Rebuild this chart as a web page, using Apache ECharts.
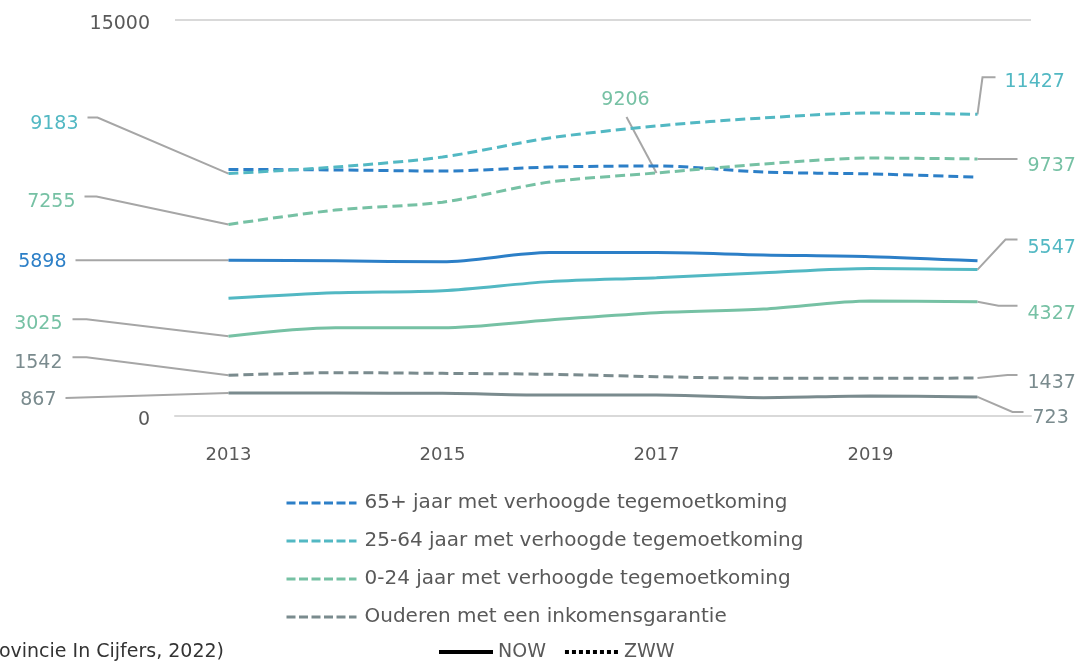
<!DOCTYPE html>
<html>
<head>
<meta charset="utf-8">
<script src="https://cdn.jsdelivr.net/npm/echarts@6/dist/echarts.min.js"></script>
<style>
  html, body { margin: 0; padding: 0; background: #fff; }
  #chart { width: 1079px; height: 663px; }
</style>
</head>
<body>
<div id="chart"></div>
<script>
// years on the x axis
var years = ["2013", "2014", "2015", "2016", "2017", "2018", "2019", "2020"];

// ZWW (dashed)
var zww65 = [9340, 9320, 9280, 9430, 9470, 9240, 9170, 9050];
var zww25 = [9183, 9430, 9810, 10530, 10985, 11290, 11477, 11427];
var zww0 = [7255, 7800, 8100, 8860, 9206, 9545, 9770, 9737];
var zwwOud = [1542, 1640, 1615, 1580, 1490, 1430, 1430, 1437];

// NOW (solid)
var now65 = [5898, 5880, 5840, 6190, 6190, 6100, 6035, 5880];
var now25 = [4457, 4670, 4745, 5090, 5240, 5430, 5590, 5547];
var now0 = [3025, 3345, 3345, 3636, 3914, 4050, 4356, 4327];
var nowOud = [867, 867, 860, 795, 795, 695, 757, 723];

var groups = [
    "65+ jaar met verhoogde tegemoetkoming",
    "25-64 jaar met verhoogde tegemoetkoming",
    "0-24 jaar met verhoogde tegemoetkoming",
    "Ouderen met een inkomensgarantie"
];

var BLUE = "#2c7fc7";
var TEAL = "#52b8c3";
var GREEN = "#76c1a4";
var GREY = "#7a8b8e";
var FONT = '"DejaVu Sans", sans-serif';

function line(name, data, color, dashed) {
    return {
        name: name,
        type: "line",
        data: data,
        smooth: 0.3,
        symbol: "none",
        lineStyle: {
            color: color,
            width: 3,
            type: dashed ? [10, 5] : "solid"
        },
        itemStyle: { color: color },
        z: dashed ? 3 : 2
    };
}

var chart = echarts.init(document.getElementById("chart"));

chart.setOption({
    animation: false,
    grid: { left: 175, right: 48, top: 20, bottom: 247 },
    xAxis: {
        type: "category",
        data: years,
        boundaryGap: true,
        axisTick: { show: false },
        axisLine: { lineStyle: { color: "#d9d9d9", width: 2 } },
        axisLabel: {
            interval: 1,
            margin: 30,
            color: "#595959",
            fontSize: 18,
            fontFamily: FONT
        }
    },
    yAxis: {
        type: "value",
        min: 0,
        max: 15000,
        interval: 15000,
        axisLine: { show: false },
        axisTick: { show: false },
        splitLine: { lineStyle: { color: "#d9d9d9", width: 2 } },
        axisLabel: {
            margin: 25,
            formatter: function(v) { return "{v|" + v + "}"; },
            rich: {
                v: {
                    color: "#595959",
                    fontSize: 19,
                    fontFamily: FONT,
                    padding: [8, 0, 0, 0]
                }
            }
        }
    },
    legend: [
        {
            data: groups,
            orient: "vertical",
            left: 285,
            top: 491,
            padding: 0,
            itemWidth: 70,
            itemHeight: 10,
            itemGap: 14,
            selectedMode: false,
            itemStyle: { opacity: 0 },
            lineStyle: { width: 3, type: [9, 3.5] },
            textStyle: {
                color: "#595959", fontSize: 20, lineHeight: 24,
                fontFamily: FONT, padding: [0, 0, 0, 3]
            }
        },
        {
            data: ["NOW", "ZWW"],
            orient: "horizontal",
            left: 437,
            top: 642,
            padding: 0,
            itemWidth: 54,
            itemHeight: 10,
            itemGap: 17,
            selectedMode: false,
            itemStyle: { opacity: 0 },
            lineStyle: { width: 4 },
            textStyle: { color: "#595959", fontSize: 19, lineHeight: 20, fontFamily: FONT }
        }
    ],
    series: [
        line(groups[0], zww65, BLUE, true),
        line(groups[1], zww25, TEAL, true),
        line(groups[2], zww0, GREEN, true),
        line(groups[3], zwwOud, GREY, true),
        line(groups[0] + " NOW", now65, BLUE, false),
        line(groups[1] + " NOW", now25, TEAL, false),
        line(groups[2] + " NOW", now0, GREEN, false),
        line(groups[3] + " NOW", nowOud, GREY, false),
        {
            name: "NOW", type: "line", data: [], symbol: "none",
            lineStyle: { color: "#000", width: 4 }, itemStyle: { color: "#000" }
        },
        {
            name: "ZWW", type: "line", data: [], symbol: "none",
            lineStyle: { color: "#000", width: 4, type: [4, 3] }, itemStyle: { color: "#000" }
        }
    ]
});

// data labels with leader lines: offsets from the point
var notes = [
    { d: zww25, i: 0, c: TEAL, pts: [[-131, -56], [-141, -56]], lx: -150, ly: -50, align: "right" },
    { d: zww0, i: 0, c: GREEN, pts: [[-132, -28], [-144, -28]], lx: -153, ly: -22, align: "right" },
    { d: now65, i: 0, c: BLUE, pts: [[-153, 0]], lx: -162, ly: 2, align: "right" },
    { d: now0, i: 0, c: GREEN, pts: [[-142, -17], [-156, -17]], lx: -166, ly: -12, align: "right" },
    { d: zwwOud, i: 0, c: GREY, pts: [[-142, -18], [-156, -18]], lx: -166, ly: -12, align: "right" },
    { d: nowOud, i: 0, c: GREY, pts: [[-163, 5]], lx: -172, ly: 7, align: "right" },
    { d: zww0, i: 4, c: GREEN, pts: [[-30, -56]], lx: -31, ly: -73, align: "center" },
    { d: zww25, i: 7, c: TEAL, pts: [[5, -37], [18, -37]], lx: 27, ly: -32, align: "left" },
    { d: zww0, i: 7, c: GREEN, pts: [[40, 0]], lx: 50, ly: 7, align: "left" },
    { d: now25, i: 7, c: TEAL, pts: [[28, -30], [40, -30]], lx: 50, ly: -21, align: "left" },
    { d: now0, i: 7, c: GREEN, pts: [[21, 4], [40, 4]], lx: 50, ly: 12, align: "left" },
    { d: zwwOud, i: 7, c: GREY, pts: [[30, -3], [40, -3]], lx: 50, ly: 5, align: "left" },
    { d: nowOud, i: 7, c: GREY, pts: [[35, 15], [46, 15]], lx: 55, ly: 21, align: "left" }
];

var g = [];
notes.forEach(function(n) {
    var p = chart.convertToPixel({ seriesIndex: 0 }, [n.i, n.d[n.i]]);
    var pts = [p].concat(n.pts.map(function(o) {
        return [p[0] + o[0], p[1] + o[1]];
    }));
    g.push({
        type: "polyline",
        shape: { points: pts },
        style: { stroke: "#a6a6a6", lineWidth: 2, fill: null },
        silent: true,
        z: 1
    });
    g.push({
        type: "text",
        x: p[0] + n.lx,
        y: p[1] + n.ly,
        style: {
            text: String(n.d[n.i]),
            fill: n.c,
            font: "19px " + FONT,
            align: n.align,
            verticalAlign: "middle"
        },
        silent: true
    });
});
g.push({
    type: "text",
    x: 224,
    y: 652,
    style: {
        text: "(Provincie In Cijfers, 2022)",
        fill: "#333",
        font: "19px " + FONT,
        align: "right",
        verticalAlign: "middle"
    }
});
chart.setOption({ graphic: g });
</script>
</body>
</html>
